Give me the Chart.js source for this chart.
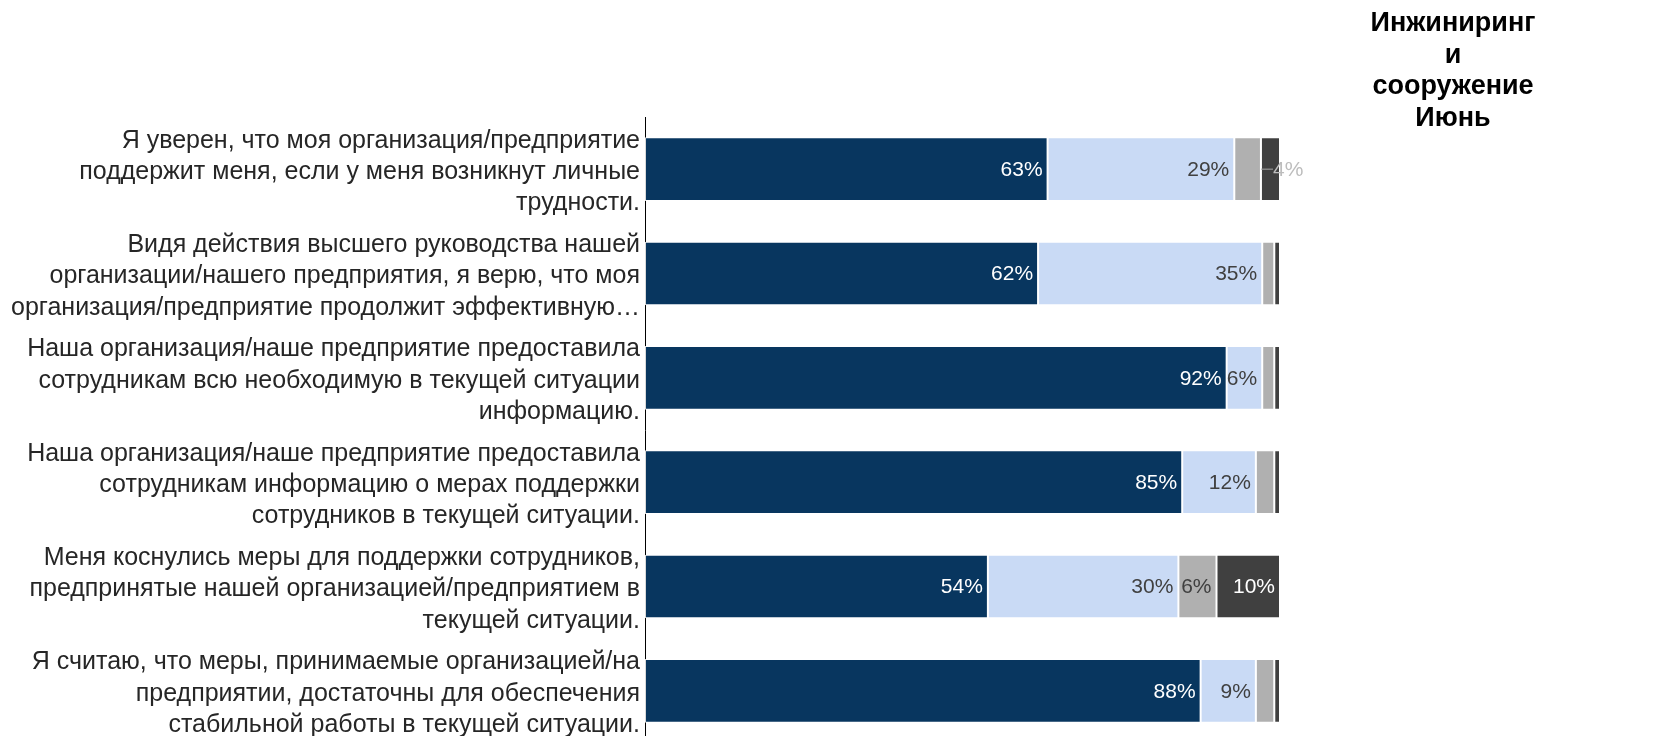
<!DOCTYPE html>
<html>
<head>
<meta charset="utf-8">
<script src="https://cdn.jsdelivr.net/npm/chart.js@4"></script>
<style>
  html, body { margin: 0; padding: 0; background: #fff; overflow: hidden; }
  #wrap { position: relative; width: 1654px; height: 760px; }
  #title {
    position: absolute; left: 1323px; top: 7px; width: 260px;
    text-align: center; font: bold 27px "Liberation Sans", Arial, sans-serif;
    line-height: 31.6px; color: #000;
  }
</style>
</head>
<body>
<div id="wrap">
  <canvas id="chart" width="1654" height="760"></canvas>
  <div id="title">Инжиниринг<br>и<br>сооружение<br>Июнь</div>
</div>
<script>
// вопросы (по строкам, как в исходнике)
const questions = [
  ["Я уверен, что моя организация/предприятие", "поддержит меня, если у меня возникнут личные", "трудности."],
  ["Видя действия высшего руководства нашей", "организации/нашего предприятия, я верю, что моя", "организация/предприятие продолжит эффективную…"],
  ["Наша организация/наше предприятие предоставила", "сотрудникам всю необходимую в текущей ситуации", "информацию."],
  ["Наша организация/наше предприятие предоставила", "сотрудникам информацию о мерах поддержки", "сотрудников в текущей ситуации."],
  ["Меня коснулись меры для поддержки сотрудников,", "предпринятые нашей организацией/предприятием в", "текущей ситуации."],
  ["Я считаю, что меры, принимаемые организацией/на", "предприятии, достаточны для обеспечения", "стабильной работы в текущей ситуации."]
];

const agree      = [63.4, 61.9, 91.6, 84.6, 54.0, 87.5];
const ratherAgree = [29.4, 35.3, 5.6, 11.6, 30.0, 8.7];
const ratherNot  = [4.2, 1.9, 1.9, 2.9, 6.0, 2.9];
const disagree   = [3.0, 0.9, 0.9, 0.9, 10.0, 0.9];

const colors = ['#08365f', '#c9daf5', '#b0b0b0', '#404040'];
const labelColors = ['#ffffff', '#404040', '#404040', '#ffffff'];

const barLabels = {
  id: 'barLabels',
  afterDatasetsDraw(chart) {
    const ctx = chart.ctx;
    ctx.save();
    ctx.font = '21px "Liberation Sans", Arial, sans-serif';
    ctx.textBaseline = 'middle';
    chart.data.datasets.forEach((ds, i) => {
      const meta = chart.getDatasetMeta(i);
      meta.data.forEach((bar, j) => {
        const v = ds.data[j];
        const txt = Math.round(v) + '%';
        if (v >= 5) {
          ctx.fillStyle = labelColors[i];
          ctx.textAlign = 'right';
          ctx.fillText(txt, bar.x - 5, bar.y + 1);
        } else if (v >= 4) {
          // маленький сегмент: подпись снаружи с выноской
          const outX = chart.chartArea.right - 7;
          ctx.strokeStyle = '#a6a6a6';
          ctx.lineWidth = 1;
          ctx.beginPath();
          ctx.moveTo(bar.x, bar.y);
          ctx.lineTo(outX, bar.y);
          ctx.stroke();
          ctx.fillStyle = '#bdbdbd';
          ctx.textAlign = 'left';
          ctx.fillText(txt, outX, bar.y + 1);
        }
      });
    });
    ctx.restore();
  }
};

const series = [agree, ratherAgree, ratherNot, disagree];

new Chart(document.getElementById('chart'), {
  type: 'bar',
  data: {
    labels: questions,
    datasets: series.map((d, i) => ({
      data: d,
      backgroundColor: colors[i],
      borderColor: 'rgba(255,255,255,0.85)',
      borderWidth: 1,
      borderSkipped: false,
      categoryPercentage: 0.61,
      barPercentage: 1
    }))
  },
  options: {
    indexAxis: 'y',
    responsive: false,
    animation: false,
    layout: { padding: { top: 117, bottom: 17, right: 374, left: 0 } },
    plugins: {
      legend: { display: false },
      tooltip: { enabled: false }
    },
    scales: {
      x: { stacked: true, min: 0, max: 100, display: false },
      y: {
        stacked: true,
        grid: { display: false, drawTicks: false },
        border: { display: true, color: '#000', width: 1 },
        ticks: {
          color: '#262626',
          padding: 5,
          labelOffset: 3,
          font: { family: '"Liberation Sans", Arial, sans-serif', size: 25, lineHeight: 1.25 }
        },
        afterFit(s) {
          s.width = 645;
          s.paddingTop = 0;
          s.paddingBottom = 0;
        }
      }
    }
  },
  plugins: [barLabels]
});
</script>
</body>
</html>
